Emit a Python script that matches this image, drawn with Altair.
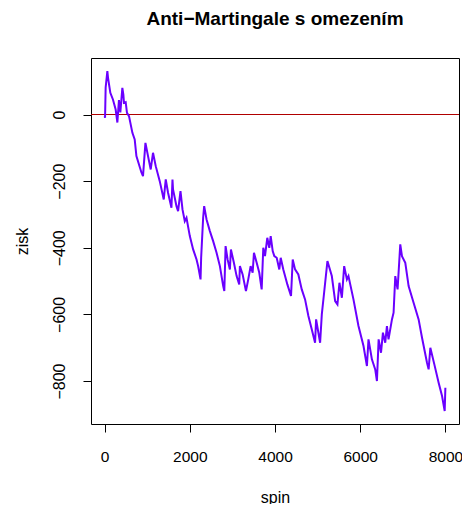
import altair as alt
import pandas as pd

# spin (x) and cumulative profit "zisk" (y)
spin = [1, 10, 24, 64, 80, 134, 195, 259, 299, 336, 369, 416, 440, 454, 494, 525, 572,
        652, 706, 746, 864, 901, 958, 1019, 1082, 1136, 1200, 1294, 1388, 1435, 1489,
        1569, 1593, 1606, 1687, 1725, 1781, 1828, 1882, 1922, 2000, 2078, 2158, 2195,
        2252, 2266, 2313, 2337, 2393, 2471, 2548, 2628, 2706, 2784, 2810, 2840, 2887,
        2941, 2965, 3035, 3099, 3160, 3176, 3240, 3318, 3372, 3428, 3475, 3506, 3570,
        3631, 3687, 3725, 3765, 3819, 3866, 3899, 3946, 3984, 4040, 4101, 4134, 4195,
        4290, 4376, 4416, 4471, 4548, 4628, 4706, 4784, 4864, 4941, 4965, 5059, 5099,
        5153, 5231, 5334, 5412, 5466, 5513, 5570, 5624, 5688, 5725, 5842, 5960, 6078,
        6158, 6195, 6275, 6353, 6393, 6433, 6489, 6534, 6588, 6628, 6665, 6746, 6784,
        6824, 6878, 6941, 6981, 7059, 7137, 7254, 7372, 7452, 7569, 7607, 7647, 7741,
        7842, 7922, 7984, 8000]
zisk = [-5, -10, 81, 130, 110, 65, 45, 15, -24, 43, 6, 80, 60, 35, 37, 5, -5,
        -55, -75, -125, -174, -185, -85, -125, -165, -115, -155, -200, -255, -195, -235,
        -280, -195, -225, -275, -290, -230, -285, -320, -310, -365, -405, -435, -455,
        -495, -430, -310, -275, -315, -350, -380, -415, -455, -515, -530, -395, -435,
        -465, -405, -445, -485, -510, -455, -480, -530, -495, -455, -475, -415, -445,
        -475, -525, -400, -425, -370, -400, -365, -410, -425, -430, -465, -430, -465,
        -510, -545, -435, -465, -480, -525, -555, -605, -645, -685, -615, -685, -600,
        -535, -440, -485, -560, -570, -505, -550, -455, -495, -485, -555, -635, -695,
        -755, -675, -735, -765, -800, -675, -715, -655, -685, -635, -675, -615, -595,
        -485, -525, -390, -425, -445, -515, -565, -615, -670, -745, -765, -700, -750,
        -805, -845, -890, -820]

x_ticks = [0, 2000, 4000, 6000, 8000]
y_ticks = [-800, -600, -400, -200, 0]

df = pd.DataFrame({"spin": spin, "zisk": zisk})

FONT = "Liberation Sans"
xscale = alt.Scale(domain=[-320, 8320], nice=False, zero=False)
yscale = alt.Scale(domain=[-929, 169.6], nice=False, zero=False)

xaxis = alt.Axis(values=x_ticks, grid=False, domain=False, tickColor="black",
                 tickSize=8, labelFont=FONT, labelFontSize=15.5, labelColor="black",
                 labelBaseline="alphabetic", labelPadding=29, labelFlush=False,
                 labelOverlap=False,
                 titleFont=FONT, titleFontSize=16, titleFontWeight="normal",
                 titleColor="black", titleBaseline="alphabetic", titleY=78,
                 format="d")
yaxis = alt.Axis(values=y_ticks, grid=False, domain=False, tickColor="black",
                 tickSize=8, labelFont=FONT, labelFontSize=16, labelColor="black",
                 labelAngle=270, labelAlign="center", labelBaseline="alphabetic",
                 labelPadding=19, labelFlush=False, labelOverlap=False,
                 titleFont=FONT, titleFontSize=16, titleFontWeight="normal",
                 titleColor="black", titleAngle=270, titleAlign="center",
                 titleBaseline="alphabetic", titleX=-64, titleY=183)

line = alt.Chart(df).mark_line(color="#6a00ff", strokeWidth=2).encode(
    x=alt.X("spin:Q", scale=xscale, axis=xaxis, title="spin"),
    y=alt.Y("zisk:Q", scale=yscale, axis=yaxis, title="zisk"),
)

zero = alt.Chart(pd.DataFrame({"y": [0]})).mark_rule(color="#b00000", strokeWidth=1).encode(
    y=alt.Y("y:Q", scale=yscale)
)

chart = alt.layer(zero, line).properties(
    width=368, height=366,
    title=alt.TitleParams("Anti−Martingale s omezením", font=FONT, fontSize=19,
                          fontWeight="bold", color="black", anchor="middle",
                          frame="group", baseline="alphabetic", offset=14),
    autosize=alt.AutoSizeParams(type="none"),
    padding={"left": 83, "top": 50, "right": 3, "bottom": 80},
).configure_view(stroke="black", strokeWidth=1)

chart.save("out.html", embed_options={"renderer": "svg", "actions": False})
